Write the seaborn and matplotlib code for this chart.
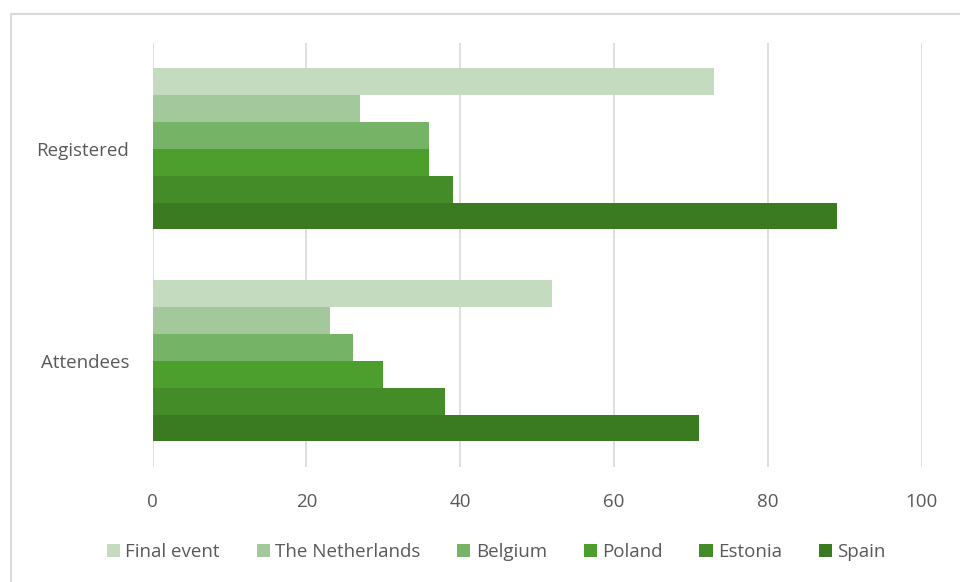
import pandas as pd
import matplotlib.pyplot as plt
import seaborn as sns
from matplotlib.patches import Rectangle

categories = ["Registered", "Attendees"]
series = ["Final event", "The Netherlands", "Belgium", "Poland", "Estonia", "Spain"]
registered = [73, 27, 36, 36, 39, 89]
attendees = [52, 23, 26, 30, 38, 71]
colors = ["#c4dbc0", "#a2c89b", "#75b466", "#4c9f2d", "#438c28", "#3a7a20"]

rows = []
for s, r, a in zip(series, registered, attendees):
    rows.append({"group": "Registered", "series": s, "value": r})
    rows.append({"group": "Attendees", "series": s, "value": a})
df = pd.DataFrame(rows)

sns.set_theme(style="white")
plt.rcParams["font.family"] = ["Open Sans", "DejaVu Sans"]
text_color = "#595959"

fig = plt.figure(figsize=(9.6, 5.82), dpi=100)
ax = fig.add_axes([0.159, 0.198, 0.801, 0.728])

sns.barplot(
    data=df,
    x="value",
    y="group",
    hue="series",
    order=categories,
    hue_order=series,
    palette=colors,
    saturation=1,
    width=0.76,
    orient="h",
    edgecolor="none",
    linewidth=0,
    ax=ax,
)

ax.set_xlim(0, 100)
ax.set_ylim(1.5, -0.5)
ax.set_xticks([0, 20, 40, 60, 80, 100])
ax.xaxis.grid(True, color="#d9d9d9", linewidth=1.2)
ax.set_axisbelow(True)
for spine in ax.spines.values():
    spine.set_visible(False)
ax.set_xlabel("")
ax.set_ylabel("")
ax.tick_params(axis="x", colors=text_color, labelsize=13.5, length=0, pad=19)
ax.tick_params(axis="y", colors=text_color, labelsize=13.5, length=0, pad=17)

handles, labels = ax.get_legend_handles_labels()
ax.legend_.remove()
fig.legend(
    handles, labels,
    loc="center", bbox_to_anchor=(0.517, 0.052),
    ncol=len(series), frameon=False,
    handlelength=0.7, handleheight=0.7, handletextpad=0.3,
    columnspacing=1.95, fontsize=13.5, labelcolor=text_color,
)

fig.patches.append(Rectangle((11 / 960, -0.1), 1.2, 1 - 14 / 582 + 0.1,
                             transform=fig.transFigure, fill=False,
                             edgecolor="#d9d9d9", linewidth=1.5))

fig.savefig("out.png", dpi=100, facecolor="white")
